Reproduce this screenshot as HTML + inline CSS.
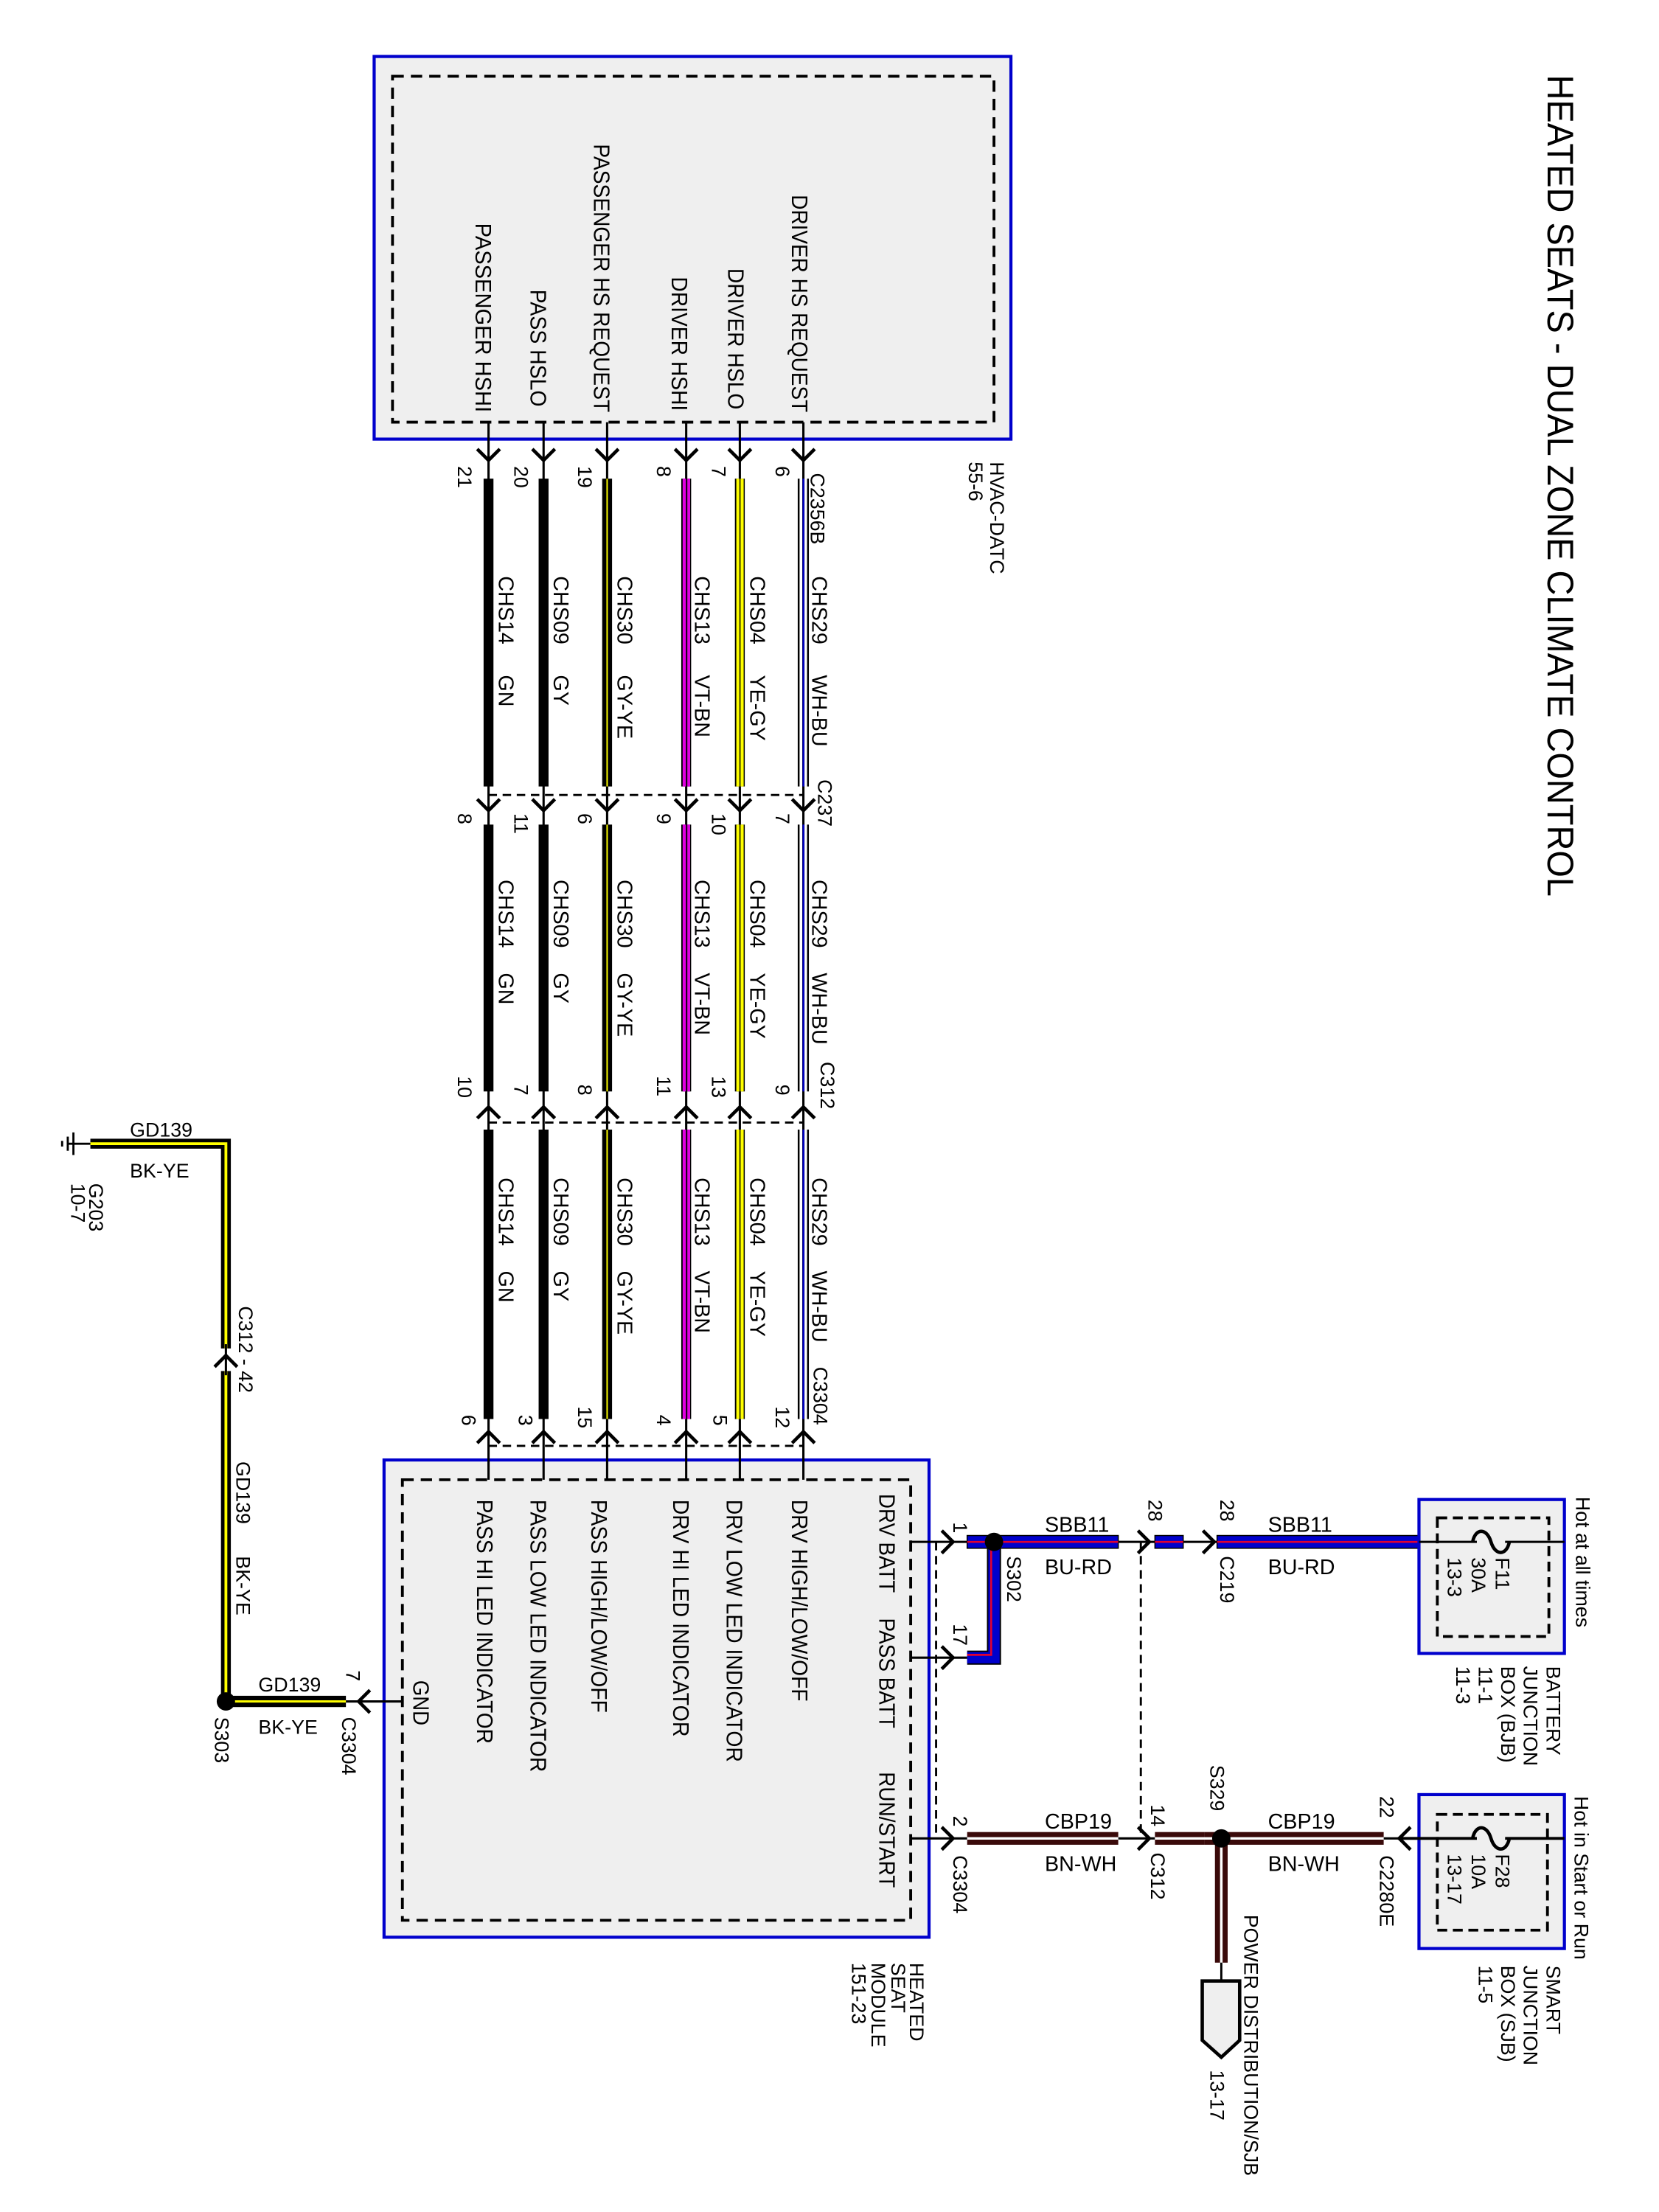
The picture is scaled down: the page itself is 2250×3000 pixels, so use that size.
<!DOCTYPE html>
<html><head><meta charset="utf-8"><style>html,body{margin:0;padding:0;background:#fff}svg{display:block}text{font-family:"Liberation Sans",Arial,sans-serif;fill:#000}</style></head>
<body>
<svg xmlns="http://www.w3.org/2000/svg" width="2250" height="3000" viewBox="0 0 1175 1566.6" preserveAspectRatio="none">
<rect width="1175" height="1567" fill="#fff"/>
<text transform="translate(1105,53) rotate(90)" dominant-baseline="central" font-size="26" textLength="582" lengthAdjust="spacingAndGlyphs">HEATED SEATS - DUAL ZONE CLIMATE CONTROL</text>

<rect x="265" y="40" width="451" height="271" fill="#efefef" stroke="#0000cc" stroke-width="2.2"/>
<rect x="278" y="54" width="426" height="245" fill="none" stroke="#000" stroke-width="2" stroke-dasharray="8,5"/>
<g font-size="16">
<text transform="translate(342,158) rotate(90)" dominant-baseline="central" textLength="134" lengthAdjust="spacingAndGlyphs">PASSENGER HSHI</text>
<text transform="translate(381,205) rotate(90)" dominant-baseline="central" textLength="83" lengthAdjust="spacingAndGlyphs">PASS HSLO</text>
<text transform="translate(426,102) rotate(90)" dominant-baseline="central" textLength="190" lengthAdjust="spacingAndGlyphs">PASSENGER HS REQUEST</text>
<text transform="translate(481,196) rotate(90)" dominant-baseline="central" textLength="95" lengthAdjust="spacingAndGlyphs">DRIVER HSHI</text>
<text transform="translate(521,190) rotate(90)" dominant-baseline="central" textLength="100" lengthAdjust="spacingAndGlyphs">DRIVER HSLO</text>
<text transform="translate(566,138) rotate(90)" dominant-baseline="central" textLength="154" lengthAdjust="spacingAndGlyphs">DRIVER HS REQUEST</text>
</g>
<g font-size="14">
<text transform="translate(706,327) rotate(90)" dominant-baseline="central">HVAC-DATC</text>
<text transform="translate(691,327) rotate(90)" dominant-baseline="central">55-6</text>
</g>

<rect x="272" y="1034" width="386" height="338" fill="#efefef" stroke="#0000cc" stroke-width="2.2"/>
<rect x="285" y="1048" width="360" height="312" fill="none" stroke="#000" stroke-width="2" stroke-dasharray="8,5"/>

<g stroke="#000" stroke-width="1.6">
<line x1="346" y1="299" x2="346" y2="1048"/>
<line x1="385" y1="299" x2="385" y2="1048"/>
<line x1="430" y1="299" x2="430" y2="1048"/>
<line x1="486" y1="299" x2="486" y2="1048"/>
<line x1="524" y1="299" x2="524" y2="1048"/>
<line x1="569" y1="299" x2="569" y2="1048"/>
</g>
<g stroke="#000" stroke-width="1.5" stroke-dasharray="6,4" fill="none">
<line x1="346" y1="563" x2="569" y2="563"/>
<line x1="346" y1="795" x2="569" y2="795"/>
<line x1="346" y1="1024" x2="569" y2="1024"/>
</g>

<g>
<g>
<rect x="342.5" y="339" width="7" height="218" fill="#000"/>
<rect x="381.5" y="339" width="7" height="218" fill="#000"/>
<rect x="426.5" y="339" width="7" height="218" fill="#000"/><rect x="429.5" y="339" width="1" height="218" fill="#ff0"/>
<rect x="482.5" y="339" width="7" height="218" fill="#000"/><rect x="483.5" y="339" width="2.3" height="218" fill="#e000e0"/><rect x="486.8" y="339" width="2" height="218" fill="#e000e0"/>
<rect x="520.5" y="339" width="7" height="218" fill="#000"/><rect x="521.5" y="339" width="2.2" height="218" fill="#ff0"/><rect x="524.5" y="339" width="2.2" height="218" fill="#ff0"/>
<rect x="565" y="339" width="1.3" height="218" fill="#000"/><rect x="568.4" y="339" width="1.3" height="218" fill="#00c"/><rect x="571.6" y="339" width="1.3" height="218" fill="#000"/>
</g>
<g>
<rect x="342.5" y="584" width="7" height="189" fill="#000"/>
<rect x="381.5" y="584" width="7" height="189" fill="#000"/>
<rect x="426.5" y="584" width="7" height="189" fill="#000"/><rect x="429.5" y="584" width="1" height="189" fill="#ff0"/>
<rect x="482.5" y="584" width="7" height="189" fill="#000"/><rect x="483.5" y="584" width="2.3" height="189" fill="#e000e0"/><rect x="486.8" y="584" width="2" height="189" fill="#e000e0"/>
<rect x="520.5" y="584" width="7" height="189" fill="#000"/><rect x="521.5" y="584" width="2.2" height="189" fill="#ff0"/><rect x="524.5" y="584" width="2.2" height="189" fill="#ff0"/>
<rect x="565" y="584" width="1.3" height="189" fill="#000"/><rect x="568.4" y="584" width="1.3" height="189" fill="#00c"/><rect x="571.6" y="584" width="1.3" height="189" fill="#000"/>
</g>
<g>
<rect x="342.5" y="800" width="7" height="205" fill="#000"/>
<rect x="381.5" y="800" width="7" height="205" fill="#000"/>
<rect x="426.5" y="800" width="7" height="205" fill="#000"/><rect x="429.5" y="800" width="1" height="205" fill="#ff0"/>
<rect x="482.5" y="800" width="7" height="205" fill="#000"/><rect x="483.5" y="800" width="2.3" height="205" fill="#e000e0"/><rect x="486.8" y="800" width="2" height="205" fill="#e000e0"/>
<rect x="520.5" y="800" width="7" height="205" fill="#000"/><rect x="521.5" y="800" width="2.2" height="205" fill="#ff0"/><rect x="524.5" y="800" width="2.2" height="205" fill="#ff0"/>
<rect x="565" y="800" width="1.3" height="205" fill="#000"/><rect x="568.4" y="800" width="1.3" height="205" fill="#00c"/><rect x="571.6" y="800" width="1.3" height="205" fill="#000"/>
</g>
</g>

<g stroke="#000" stroke-width="2.4" fill="none">
<path d="M338,318 L346,326 L354,318 M377,318 L385,326 L393,318 M422,318 L430,326 L438,318 M478,318 L486,326 L494,318 M516,318 L524,326 L532,318 M561,318 L569,326 L577,318"/>
<path d="M338,566 L346,574 L354,566 M377,566 L385,574 L393,566 M422,566 L430,574 L438,566 M478,566 L486,574 L494,566 M516,566 L524,574 L532,566 M561,566 L569,574 L577,566"/>
<path d="M338,792 L346,784 L354,792 M377,792 L385,784 L393,792 M422,792 L430,784 L438,792 M478,792 L486,784 L494,792 M516,792 L524,784 L532,792 M561,792 L569,784 L577,792"/>
<path d="M338,1022 L346,1014 L354,1022 M377,1022 L385,1014 L393,1022 M422,1022 L430,1014 L438,1022 M478,1022 L486,1014 L494,1022 M516,1022 L524,1014 L532,1022 M561,1022 L569,1014 L577,1022"/>
</g>

<g font-size="14">
<text transform="translate(329,330) rotate(90)" dominant-baseline="central">21</text>
<text transform="translate(369,330) rotate(90)" dominant-baseline="central">20</text>
<text transform="translate(414,330) rotate(90)" dominant-baseline="central">19</text>
<text transform="translate(470,330) rotate(90)" dominant-baseline="central">8</text>
<text transform="translate(509,330) rotate(90)" dominant-baseline="central">7</text>
<text transform="translate(554,330) rotate(90)" dominant-baseline="central">6</text>
<text transform="translate(579,335) rotate(90)" dominant-baseline="central">C2356B</text>

<text transform="translate(329,576) rotate(90)" dominant-baseline="central">8</text>
<text transform="translate(369,576) rotate(90)" dominant-baseline="central">11</text>
<text transform="translate(414,576) rotate(90)" dominant-baseline="central">6</text>
<text transform="translate(470,576) rotate(90)" dominant-baseline="central">9</text>
<text transform="translate(509,576) rotate(90)" dominant-baseline="central">10</text>
<text transform="translate(554,576) rotate(90)" dominant-baseline="central">7</text>
<text transform="translate(584,552) rotate(90)" dominant-baseline="central">C237</text>

<text transform="translate(329,762) rotate(90)" dominant-baseline="central">10</text>
<text transform="translate(369,768) rotate(90)" dominant-baseline="central">7</text>
<text transform="translate(414,768) rotate(90)" dominant-baseline="central">8</text>
<text transform="translate(470,762) rotate(90)" dominant-baseline="central">11</text>
<text transform="translate(509,762) rotate(90)" dominant-baseline="central">13</text>
<text transform="translate(554,768) rotate(90)" dominant-baseline="central">9</text>
<text transform="translate(586,752) rotate(90)" dominant-baseline="central">C312</text>

<text transform="translate(332,1002) rotate(90)" dominant-baseline="central">6</text>
<text transform="translate(372,1002) rotate(90)" dominant-baseline="central">3</text>
<text transform="translate(414,996) rotate(90)" dominant-baseline="central">15</text>
<text transform="translate(470,1002) rotate(90)" dominant-baseline="central">4</text>
<text transform="translate(510,1002) rotate(90)" dominant-baseline="central">5</text>
<text transform="translate(554,996) rotate(90)" dominant-baseline="central">12</text>
<text transform="translate(581,968) rotate(90)" dominant-baseline="central">C3304</text>
</g>

<g font-size="15">
<text transform="translate(358,408) rotate(90)" dominant-baseline="central">CHS14</text><text transform="translate(358,478) rotate(90)" dominant-baseline="central">GN</text>
<text transform="translate(397,408) rotate(90)" dominant-baseline="central">CHS09</text><text transform="translate(397,478) rotate(90)" dominant-baseline="central">GY</text>
<text transform="translate(442,408) rotate(90)" dominant-baseline="central">CHS30</text><text transform="translate(442,478) rotate(90)" dominant-baseline="central">GY-YE</text>
<text transform="translate(497,408) rotate(90)" dominant-baseline="central">CHS13</text><text transform="translate(497,478) rotate(90)" dominant-baseline="central">VT-BN</text>
<text transform="translate(536,408) rotate(90)" dominant-baseline="central">CHS04</text><text transform="translate(536,478) rotate(90)" dominant-baseline="central">YE-GY</text>
<text transform="translate(580,408) rotate(90)" dominant-baseline="central">CHS29</text><text transform="translate(580,478) rotate(90)" dominant-baseline="central">WH-BU</text>

<text transform="translate(358,623) rotate(90)" dominant-baseline="central">CHS14</text><text transform="translate(358,689) rotate(90)" dominant-baseline="central">GN</text>
<text transform="translate(397,623) rotate(90)" dominant-baseline="central">CHS09</text><text transform="translate(397,689) rotate(90)" dominant-baseline="central">GY</text>
<text transform="translate(442,623) rotate(90)" dominant-baseline="central">CHS30</text><text transform="translate(442,689) rotate(90)" dominant-baseline="central">GY-YE</text>
<text transform="translate(497,623) rotate(90)" dominant-baseline="central">CHS13</text><text transform="translate(497,689) rotate(90)" dominant-baseline="central">VT-BN</text>
<text transform="translate(536,623) rotate(90)" dominant-baseline="central">CHS04</text><text transform="translate(536,689) rotate(90)" dominant-baseline="central">YE-GY</text>
<text transform="translate(580,623) rotate(90)" dominant-baseline="central">CHS29</text><text transform="translate(580,689) rotate(90)" dominant-baseline="central">WH-BU</text>

<text transform="translate(358,834) rotate(90)" dominant-baseline="central">CHS14</text><text transform="translate(358,900) rotate(90)" dominant-baseline="central">GN</text>
<text transform="translate(397,834) rotate(90)" dominant-baseline="central">CHS09</text><text transform="translate(397,900) rotate(90)" dominant-baseline="central">GY</text>
<text transform="translate(442,834) rotate(90)" dominant-baseline="central">CHS30</text><text transform="translate(442,900) rotate(90)" dominant-baseline="central">GY-YE</text>
<text transform="translate(497,834) rotate(90)" dominant-baseline="central">CHS13</text><text transform="translate(497,900) rotate(90)" dominant-baseline="central">VT-BN</text>
<text transform="translate(536,834) rotate(90)" dominant-baseline="central">CHS04</text><text transform="translate(536,900) rotate(90)" dominant-baseline="central">YE-GY</text>
<text transform="translate(580,834) rotate(90)" dominant-baseline="central">CHS29</text><text transform="translate(580,900) rotate(90)" dominant-baseline="central">WH-BU</text>
</g>

<g font-size="16">
<text transform="translate(566,1062) rotate(90)" dominant-baseline="central" textLength="143" lengthAdjust="spacingAndGlyphs">DRV HIGH/LOW/OFF</text>
<text transform="translate(520,1062) rotate(90)" dominant-baseline="central" textLength="186" lengthAdjust="spacingAndGlyphs">DRV LOW LED INDICATOR</text>
<text transform="translate(482,1062) rotate(90)" dominant-baseline="central" textLength="168" lengthAdjust="spacingAndGlyphs">DRV HI LED INDICATOR</text>
<text transform="translate(424,1062) rotate(90)" dominant-baseline="central" textLength="151" lengthAdjust="spacingAndGlyphs">PASS HIGH/LOW/OFF</text>
<text transform="translate(381,1062) rotate(90)" dominant-baseline="central" textLength="193" lengthAdjust="spacingAndGlyphs">PASS LOW LED INDICATOR</text>
<text transform="translate(343,1062) rotate(90)" dominant-baseline="central" textLength="173" lengthAdjust="spacingAndGlyphs">PASS HI LED INDICATOR</text>
<text transform="translate(298,1190) rotate(90)" dominant-baseline="central" textLength="32" lengthAdjust="spacingAndGlyphs">GND</text>
<text transform="translate(628,1058) rotate(90)" dominant-baseline="central" textLength="70" lengthAdjust="spacingAndGlyphs">DRV BATT</text>
<text transform="translate(628,1146) rotate(90)" dominant-baseline="central" textLength="78" lengthAdjust="spacingAndGlyphs">PASS BATT</text>
<text transform="translate(628,1255) rotate(90)" dominant-baseline="central" textLength="82" lengthAdjust="spacingAndGlyphs">RUN/START</text>
</g>
<g font-size="14">
<text transform="translate(649,1390) rotate(90)" dominant-baseline="central">HEATED</text>
<text transform="translate(636,1390) rotate(90)" dominant-baseline="central">SEAT</text>
<text transform="translate(622,1390) rotate(90)" dominant-baseline="central">MODULE</text>
<text transform="translate(608,1390) rotate(90)" dominant-baseline="central">151-23</text>
</g>

<g stroke="#000" stroke-width="1.6" fill="none">
<line x1="645" y1="1092" x2="685" y2="1092"/>
<line x1="645" y1="1174" x2="685" y2="1174"/>
<line x1="645" y1="1302" x2="685" y2="1302"/>
<line x1="792" y1="1092" x2="818" y2="1092"/>
<line x1="838" y1="1092" x2="862" y2="1092"/>
<line x1="792" y1="1302" x2="818" y2="1302"/>
<line x1="980" y1="1302" x2="1108" y2="1302"/>
<line x1="1005" y1="1092" x2="1108" y2="1092"/>
</g>
<g stroke="#000" stroke-width="1.5" stroke-dasharray="6,4" fill="none">
<line x1="663" y1="1092" x2="663" y2="1302"/>
<line x1="808" y1="1092" x2="808" y2="1302"/>
</g>
<g>
<rect x="685" y="1087.5" width="20" height="9" fill="#0000cc" stroke="#000" stroke-width="0.8"/>
<rect x="705" y="1087.5" width="87" height="9" fill="#0000cc" stroke="#000" stroke-width="0.8"/>
<rect x="818" y="1087.5" width="20" height="9" fill="#0000cc" stroke="#000" stroke-width="0.8"/>
<rect x="862" y="1087.5" width="143" height="9" fill="#0000cc" stroke="#000" stroke-width="0.8"/>
<path d="M685,1174 H704 V1092" stroke="#000" stroke-width="10" fill="none"/>
<path d="M685,1174 H704 V1092" stroke="#0000cc" stroke-width="8" fill="none"/>
<g stroke="#e00030" stroke-width="1.4" fill="none">
<line x1="685" y1="1092" x2="792" y2="1092"/>
<line x1="818" y1="1092" x2="838" y2="1092"/>
<line x1="862" y1="1092" x2="1005" y2="1092"/>
<path d="M685,1172 H702 V1092"/>
</g>
<circle cx="704" cy="1092" r="6.5" fill="#000"/>
</g>
<g>
<rect x="685" y="1297.5" width="107" height="9" fill="#3a0a0a"/>
<rect x="818" y="1297.5" width="35" height="9" fill="#3a0a0a"/>
<rect x="853" y="1297.5" width="127" height="9" fill="#3a0a0a"/>
<rect x="860.5" y="1302" width="9" height="88" fill="#3a0a0a"/>
<g stroke="#fff" stroke-width="1.8">
<line x1="685" y1="1302" x2="792" y2="1302"/>
<line x1="818" y1="1302" x2="980" y2="1302"/>
<line x1="865" y1="1308" x2="865" y2="1390"/>
</g>
<line x1="865" y1="1390" x2="865" y2="1403" stroke="#000" stroke-width="1.5"/>
<path d="M851.5,1403 H878 V1445 L865,1457 L851.5,1445 Z" fill="#efefef" stroke="#000" stroke-width="2.4"/>
<circle cx="865" cy="1302" r="6.5" fill="#000"/>
</g>
<g stroke="#000" stroke-width="2.4" fill="none">
<path d="M667,1084 L675,1092 L667,1100"/>
<path d="M667,1166 L675,1174 L667,1182"/>
<path d="M667,1294 L675,1302 L667,1310"/>
<path d="M806,1084 L814,1092 L806,1100"/>
<path d="M852,1084 L860,1092 L852,1100"/>
<path d="M806,1294 L814,1302 L806,1310"/>
<path d="M999,1294 L991,1302 L999,1310"/>
</g>
<g font-size="14">
<text transform="translate(680,1078) rotate(90)" dominant-baseline="central">1</text>
<text transform="translate(680,1150) rotate(90)" dominant-baseline="central">17</text>
<text transform="translate(680,1286) rotate(90)" dominant-baseline="central">2</text>
<text transform="translate(680,1314) rotate(90)" dominant-baseline="central">C3304</text>
<text transform="translate(718,1102) rotate(90)" dominant-baseline="central">S302</text>
<text transform="translate(818,1062) rotate(90)" dominant-baseline="central">28</text>
<text transform="translate(869,1062) rotate(90)" dominant-baseline="central">28</text>
<text transform="translate(869,1102) rotate(90)" dominant-baseline="central">C219</text>
<text transform="translate(820,1278) rotate(90)" dominant-baseline="central">14</text>
<text transform="translate(820,1312) rotate(90)" dominant-baseline="central">C312</text>
<text transform="translate(862,1250) rotate(90)" dominant-baseline="central">S329</text>
<text transform="translate(982,1272) rotate(90)" dominant-baseline="central">22</text>
<text transform="translate(982,1314) rotate(90)" dominant-baseline="central">C2280E</text>
<text transform="translate(886,1356) rotate(90)" dominant-baseline="central">POWER DISTRIBUTION/SJB</text>
<text transform="translate(862,1466) rotate(90)" dominant-baseline="central">13-17</text>
</g>
<g font-size="15">
<text x="740" y="1085">SBB11</text><text x="740" y="1115">BU-RD</text>
<text x="898" y="1085">SBB11</text><text x="898" y="1115">BU-RD</text>
<text x="740" y="1295">CBP19</text><text x="740" y="1325">BN-WH</text>
<text x="898" y="1295">CBP19</text><text x="898" y="1325">BN-WH</text>
</g>

<rect x="1005" y="1062" width="103" height="109" fill="#efefef" stroke="#0000cc" stroke-width="2.2"/>
<rect x="1018" y="1075" width="79" height="84" fill="none" stroke="#000" stroke-width="2" stroke-dasharray="7,4"/>
<line x1="1005" y1="1092" x2="1108" y2="1092" stroke="#000" stroke-width="1.6"/>
<line x1="1046" y1="1092" x2="1066" y2="1092" stroke="#efefef" stroke-width="3"/>
<path d="M1043,1092 C1045,1082 1053,1082 1056,1092 C1059,1102 1067,1102 1069,1092" stroke="#000" stroke-width="2.4" fill="none"/>
<g font-size="14">
<text transform="translate(1064,1103) rotate(90)" dominant-baseline="central">F11</text>
<text transform="translate(1047,1103) rotate(90)" dominant-baseline="central">30A</text>
<text transform="translate(1030,1103) rotate(90)" dominant-baseline="central">13-3</text>
<text transform="translate(1121,1060) rotate(90)" dominant-baseline="central">Hot at all times</text>
<text transform="translate(1100,1180) rotate(90)" dominant-baseline="central">BATTERY</text>
<text transform="translate(1084,1180) rotate(90)" dominant-baseline="central">JUNCTION</text>
<text transform="translate(1068,1180) rotate(90)" dominant-baseline="central">BOX (BJB)</text>
<text transform="translate(1052,1180) rotate(90)" dominant-baseline="central">11-1</text>
<text transform="translate(1036,1180) rotate(90)" dominant-baseline="central">11-3</text>
</g>

<rect x="1005" y="1271" width="103" height="109" fill="#efefef" stroke="#0000cc" stroke-width="2.2"/>
<rect x="1018" y="1285" width="78" height="82" fill="none" stroke="#000" stroke-width="2" stroke-dasharray="7,4"/>
<line x1="990" y1="1302" x2="1108" y2="1302" stroke="#000" stroke-width="2"/>
<line x1="1046" y1="1302" x2="1066" y2="1302" stroke="#efefef" stroke-width="3"/>
<path d="M1043,1302 C1045,1292 1053,1292 1056,1302 C1059,1312 1067,1312 1069,1302" stroke="#000" stroke-width="2.4" fill="none"/>
<g font-size="14">
<text transform="translate(1064,1313) rotate(90)" dominant-baseline="central">F28</text>
<text transform="translate(1047,1313) rotate(90)" dominant-baseline="central">10A</text>
<text transform="translate(1030,1313) rotate(90)" dominant-baseline="central">13-17</text>
<text transform="translate(1120,1272) rotate(90)" dominant-baseline="central">Hot in Start or Run</text>
<text transform="translate(1100,1392) rotate(90)" dominant-baseline="central">SMART</text>
<text transform="translate(1084,1392) rotate(90)" dominant-baseline="central">JUNCTION</text>
<text transform="translate(1068,1392) rotate(90)" dominant-baseline="central">BOX (SJB)</text>
<text transform="translate(1052,1392) rotate(90)" dominant-baseline="central">11-5</text>
</g>

<g>
<path d="M64,810 H160 V1205" stroke="#000" stroke-width="7" fill="none"/>
<path d="M64,810 H160 V1205" stroke="#ff0" stroke-width="2" fill="none"/>
<rect x="155" y="955" width="10" height="16" fill="#fff"/>
<line x1="160" y1="952" x2="160" y2="974" stroke="#000" stroke-width="1.6"/>
<path d="M152,968 L160,960 L168,968" stroke="#000" stroke-width="2.4" fill="none"/>
<rect x="165" y="1201" width="80" height="8" fill="#000"/>
<rect x="165" y="1204.2" width="80" height="1.6" fill="#ff0"/>
<line x1="245" y1="1205" x2="285" y2="1205" stroke="#000" stroke-width="1.6"/>
<path d="M262,1197 L254,1205 L262,1213" stroke="#000" stroke-width="2.4" fill="none"/>
<circle cx="160" cy="1205" r="6.5" fill="#000"/>
<line x1="48" y1="810" x2="64" y2="810" stroke="#000" stroke-width="1.5"/>
<line x1="52" y1="802" x2="52" y2="818" stroke="#000" stroke-width="1.5"/>
<line x1="48" y1="805" x2="48" y2="815" stroke="#000" stroke-width="1.5"/>
<line x1="44" y1="808" x2="44" y2="812" stroke="#000" stroke-width="1.5"/>
</g>
<g font-size="14">
<text x="92" y="805">GD139</text><text x="92" y="834">BK-YE</text>
<text x="183" y="1198">GD139</text><text x="183" y="1228">BK-YE</text>
<text transform="translate(68,838) rotate(90)" dominant-baseline="central">G203</text>
<text transform="translate(55,838) rotate(90)" dominant-baseline="central">10-7</text>
<text transform="translate(174,925) rotate(90)" dominant-baseline="central">C312 - 42</text>
<text transform="translate(172,1035) rotate(90)" dominant-baseline="central">GD139</text>
<text transform="translate(172,1102) rotate(90)" dominant-baseline="central">BK-YE</text>
<text transform="translate(157,1216) rotate(90)" dominant-baseline="central">S303</text>
<text transform="translate(250,1183) rotate(90)" dominant-baseline="central">7</text>
<text transform="translate(247,1216) rotate(90)" dominant-baseline="central">C3304</text>
</g>
</svg>
</body></html>
